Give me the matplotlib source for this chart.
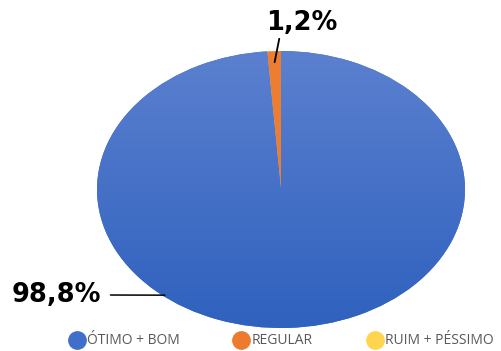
import numpy as np
import matplotlib
matplotlib.use("Agg")
import matplotlib.pyplot as plt
from matplotlib.lines import Line2D
from matplotlib.colors import LinearSegmentedColormap

categories = ["ÓTIMO + BOM", "REGULAR", "RUIM + PÉSSIMO"]
values = [98.8, 1.2, 0.0]
labels = ["98,8%", "1,2%", ""]
colors = ["#4472C4", "#ED7D31", "#FFC000"]
legend_colors = ["#3F6FCB", "#EE7A2E", "#FFD54F"]

W, H = 501, 351
fig = plt.figure(figsize=(W / 100, H / 100), dpi=100)
fig.patch.set_facecolor("white")

# pie axes spanning the ellipse bounding box (pixels)
left, right, top, bottom = 97, 465, 51, 328
ax = fig.add_axes([left / W, (H - bottom) / H, (right - left) / W, (bottom - top) / H])
wedges, _ = ax.pie(values, colors=colors, startangle=90, counterclock=False,
                   radius=1.0, center=(0, 0), frame=False,
                   wedgeprops=dict(linewidth=0))
ax.set_aspect("auto")
ax.set_xlim(-1, 1)
ax.set_ylim(-1, 1)
ax.axis("off")

# gradient fill for the big blue slice
cmap = LinearSegmentedColormap.from_list("g", ["#5B80CF", "#2F61BE"])
grad = np.linspace(0, 1, 256).reshape(-1, 1)
im = ax.imshow(grad, extent=(-1, 1, -1, 1), origin="upper", cmap=cmap,
               aspect="auto", zorder=wedges[0].get_zorder() + 0.5)
im.set_clip_path(wedges[0])
ax.set_xlim(-1, 1)
ax.set_ylim(-1, 1)

# labels with leader lines
def wedge_mid(w):
    return np.deg2rad((w.theta1 + w.theta2) / 2)

a1 = wedge_mid(wedges[1])
ax.annotate(labels[1], xy=(0.92 * np.cos(a1), 0.92 * np.sin(a1)),
            xytext=(302, H - 23), textcoords="figure pixels",
            ha="center", va="center", fontsize=18.5, fontweight="bold",
            family="DejaVu Sans", color="black",
            arrowprops=dict(arrowstyle="-", color="black", lw=1.3,
                            shrinkA=0, shrinkB=0, relpos=(0.2, 0.15)),
            annotation_clip=False)

a0 = np.deg2rad(230.4)
ax.annotate(labels[0], xy=(0.99 * np.cos(a0), 0.99 * np.sin(a0)),
            xytext=(56, H - 295), textcoords="figure pixels",
            ha="center", va="center", fontsize=18.5, fontweight="bold",
            family="DejaVu Sans", color="black",
            arrowprops=dict(arrowstyle="-", color="black", lw=1.1,
                            shrinkA=5, shrinkB=0, relpos=(1.0, 0.5)),
            annotation_clip=False)

handles = [Line2D([], [], marker="o", linestyle="none", markersize=12.5,
                  markerfacecolor=c, markeredgecolor=c) for c in legend_colors]
leg = fig.legend(handles, categories, loc="center",
                 bbox_to_anchor=(282 / W, 1 - 341 / H), ncol=3, frameon=False,
                 prop=dict(family="Open Sans", size=10),
                 handlelength=0.9, handletextpad=0.3, columnspacing=4.0,
                 borderaxespad=0, borderpad=0)
for t in leg.get_texts():
    t.set_color("#595959")

fig.savefig("out.png", dpi=100, facecolor="white")
